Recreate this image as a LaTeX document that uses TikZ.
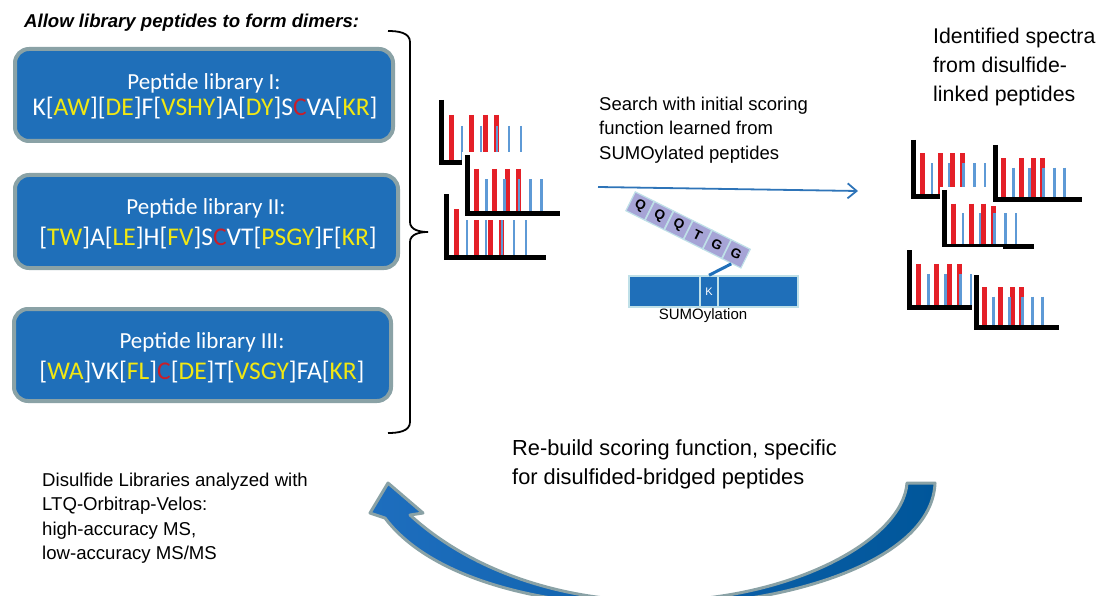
\documentclass[tikz,border=0pt]{standalone}
\usepackage{fontspec}
\setmainfont{Liberation Sans}
\newfontfamily\boxfont{Carlito}
\usetikzlibrary{arrows.meta}

\definecolor{libblue}{HTML}{1F6FB9}
\definecolor{libedge}{HTML}{8AA2A6}
\definecolor{aayellow}{HTML}{F2E812}
\definecolor{cysred}{HTML}{C81E2A}
\definecolor{peakred}{HTML}{E42028}
\definecolor{peakblue}{HTML}{5E9AD6}
\definecolor{arrowblue}{HTML}{2E74B8}
\definecolor{sumoviolet}{HTML}{A6A4D6}
\definecolor{sumoedge}{HTML}{BFE0E8}
\definecolor{curveblue}{HTML}{1E6EBE}
\definecolor{curvedark}{HTML}{00569A}

% residue colouring inside the library sequences
\newcommand\yl[1]{\textcolor{aayellow}{#1}}
\newcommand\cy[1]{\textcolor{cysred}{#1}}

% one mass spectrum: axes, red and blue peaks on a white card
\newcommand\drawspectrum[3]{%
  \begin{scope}[shift={(#1,#2)},scale=#3]
    \fill[white] (-5,-3) rectangle (102,70);
    \foreach \r in {10,30,44,55} \draw[peakred,line width=5] (\r,15) -- (\r,63);
    \foreach \b in {21,40,56,68,80} \draw[peakblue,line width=2.8] (\b,26) -- (\b,63);
    \draw[black,line width=5,line join=miter] (0,0) -- (0,63) -- (100,63);
  \end{scope}}

\tikzset{
  libbox/.style={draw=libedge,fill=libblue,line width=4,rounded corners=14pt,
    inner sep=0pt},
  libtitle/.style={text=white,inner sep=0pt,font=\boxfont\fontsize{23}{23}\selectfont},
  libseq/.style={text=white,inner sep=0pt,font=\boxfont\fontsize{25.5}{25.5}\selectfont},
  plain/.style={anchor=west,align=left,inner sep=0pt},
  residue/.style={draw=sumoedge,fill=sumoviolet,line width=1.2,minimum size=21pt,
    inner sep=0pt,rotate=-26.5,font=\bfseries\fontsize{13.5}{13.5}\selectfont},
  sumoseg/.style={draw=sumoedge,fill=libblue,line width=1.5,minimum height=31pt,
    inner sep=0pt,text=white,font=\fontsize{11}{11}\selectfont},
}

\begin{document}
\begin{tikzpicture}[x=1pt,y=-1pt]
\path[use as bounding box] (0,0) rectangle (1102,596);
\clip (0,0) rectangle (1102,596);

% heading
\node[plain,font=\bfseries\itshape\fontsize{18.6}{20}\selectfont] (heading) at (24,23)
  {Allow library peptides to form dimers:};

% the three peptide libraries
\node[libbox,minimum width=378pt,minimum height=92pt] (lib1) at (204,95) {};
\node[libtitle] (lib1title) at (204,83) {Peptide library I:};
\node[libseq] (lib1seq) at (205,108)
  {K[\yl{AW}][\yl{DE}]F[\yl{VSHY}]A[\yl{DY}]S\cy{C}VA[\yl{KR}]};

\node[libbox,minimum width=383pt,minimum height=93pt] (lib2) at (206.5,221.5) {};
\node[libtitle] (lib2title) at (206,208) {Peptide library II:};
\node[libseq] (lib2seq) at (208,238)
  {[\yl{TW}]A[\yl{LE}]H[\yl{FV}]S\cy{C}VT[\yl{PSGY}]F[\yl{KR}]};

\node[libbox,minimum width=377pt,minimum height=92pt] (lib3) at (202.5,355) {};
\node[libtitle] (lib3title) at (202,342) {Peptide library III:};
\node[libseq] (lib3seq) at (202,372)
  {[\yl{WA}]VK[\yl{FL}]\cy{C}[\yl{DE}]T[\yl{VSGY}]FA[\yl{KR}]};

% brace gathering the libraries
\draw[line width=1.8] (388,31) to[out=0,in=90] (410,42) -- (410,222)
  to[out=-90,in=180] (428,232);
\draw[line width=1.8] (428,232) to[out=180,in=90] (410,242) -- (410,422)
  to[out=-90,in=0] (388,433);
\coordinate (bracetip) at (428,232);

% spectra of the dimer libraries
\drawspectrum{446}{194}{1}
\drawspectrum{441}{100}{1}
\drawspectrum{467}{155}{0.93}

% search step
\node[plain,font=\fontsize{18.5}{24.5}\selectfont] (search) at (599,130)
  {Search with initial scoring\\function learned from\\SUMOylated peptides};
\coordinate (searchstart) at (598,187);
\coordinate (searchend) at (858,191);
\draw[arrowblue,line width=1.8,-{Straight Barb[length=9pt,width=15pt,line width=1.8pt]}]
  (searchstart) -- (searchend);

% SUMO remnant on the lysine
\foreach \res [count=\i from 0] in {Q,Q,Q,T,G,G}
  \node[residue] (s\i) at ({640+19.24*\i},{206+9.59*\i}) {\res};
\node[sumoseg,minimum width=71pt] (sumoleft) at (664.5,291.5) {};
\node[sumoseg,minimum width=18pt] (lysine) at (709,291.5) {K};
\node[sumoseg,minimum width=80pt] (sumoright) at (758,291.5) {};
\draw[libblue,line width=3] (s5.south) -- (lysine.north);
\node[font=\fontsize{15}{15}\selectfont,inner sep=0pt] (sumolabel) at (703,316) {SUMOylation};

% identified spectra
\node[plain,font=\fontsize{21.3}{29}\selectfont] (identified) at (933,67)
  {Identified spectra\\from disulfide-\\linked peptides};
\drawspectrum{913}{140}{0.9}
\drawspectrum{944}{190}{0.9}
\drawspectrum{995}{145}{0.87}
\drawspectrum{909}{250}{0.92}
\drawspectrum{976}{275}{0.83}

% rebuilding the scoring function
\node[plain,font=\fontsize{21.8}{29}\selectfont] (rebuild) at (512,464)
  {Re-build scoring function, specific\\for disulfided-bridged peptides};

% instrument
\node[plain,font=\fontsize{18.6}{24.5}\selectfont] (instrument) at (42,518)
  {Disulfide Libraries analyzed with\\LTQ-Orbitrap-Velos:\\high-accuracy MS,\\low-accuracy MS/MS};

% curved return arrow
\path[draw=libedge,line width=3,line join=round,left color=curveblue,right color=curvedark]
  (388,483) -- (423,513) -- (410,515)
  .. controls (470,570) and (560,601) .. (655,601)
  .. controls (790,601) and (903,540) .. (907,483)
  -- (935,483)
  .. controls (932,560) and (790,606) .. (650,606)
  .. controls (540,606) and (430,578) .. (385,518)
  -- (370,513) -- cycle;
\end{tikzpicture}
\end{document}
